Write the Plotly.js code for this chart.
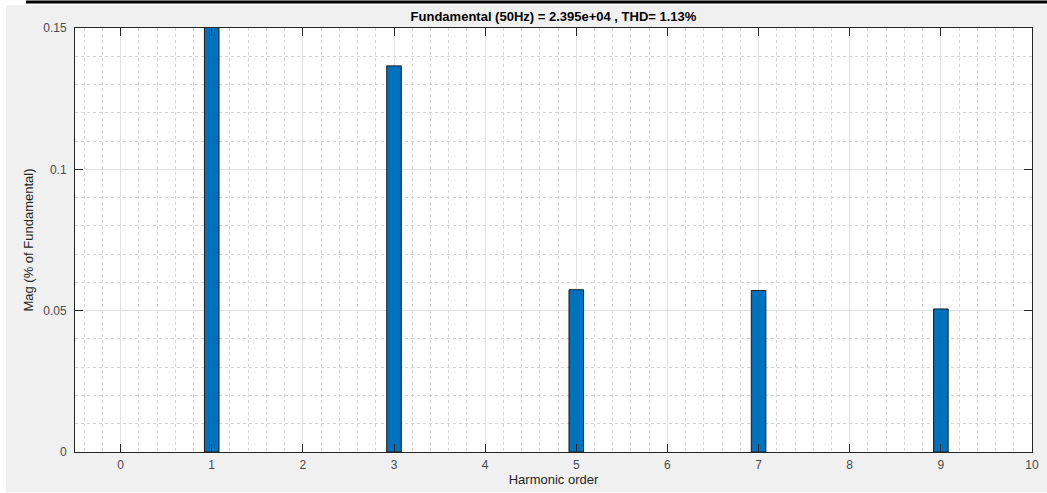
<!DOCTYPE html>
<html>
<head>
<meta charset="utf-8">
<script src="https://cdn.plot.ly/plotly-3.0.1.min.js"></script>
<style>
html,body{margin:0;padding:0;background:#fff;}
#chart{width:1047px;height:493px;}
</style>
</head>
<body>
<div id="chart"></div>
<script>
// Data
const harmonicOrder = [1, 3, 5, 7, 9];
const magnitudePct = [100, 0.1366, 0.0574, 0.0571, 0.0506];
const xTickVals = [0, 1, 2, 3, 4, 5, 6, 7, 8, 9, 10];
const xTickText = ['0', '1', '2', '3', '4', '5', '6', '7', '8', '9', '10'];
const yTickVals = [0, 0.05, 0.1, 0.15];
const yTickText = ['0', '0.05', '0.1', '0.15'];
const titleText = 'Fundamental (50Hz) = 2.395e+04 , THD= 1.13%';
const xTitle = 'Harmonic order';
const yTitle = 'Mag (% of Fundamental)';

const FONT = '"Liberation Sans", Arial, Helvetica, sans-serif';
const AX = '#262626';

const trace = {
  type: 'bar',
  x: harmonicOrder,
  y: magnitudePct,
  width: 0.16,
  marker: {color: '#0072BD', line: {color: '#1a1a1a', width: 1}},
  hoverinfo: 'x+y'
};

const L = 75, R = 15, T = 28, B = 41;
const W = 1047, H = 493;
const pw = W - L - R, ph = H - T - B;
const px = v => (v - L) / pw;          // pixel x -> paper x
const py = v => (H - B - v) / ph;      // pixel y -> paper y

const layout = {
  width: W, height: H,
  margin: {l: L, r: R, t: T, b: B, pad: 0},
  paper_bgcolor: '#f0f0f0',
  plot_bgcolor: '#ffffff',
  showlegend: false,
  bargap: 0,
  font: {family: FONT, size: 12, color: AX},
  title: {
    text: '<b>' + titleText + '</b>',
    font: {family: FONT, size: 13, color: '#000'},
    x: 0.5, xref: 'paper', xanchor: 'center',
    y: 1 - 16.5 / H, yref: 'container', yanchor: 'middle'
  },
  xaxis: {
    range: [-0.5, 10],
    tickmode: 'array', tickvals: xTickVals, ticktext: xTickText,
    ticks: 'inside', ticklen: 8, tickwidth: 1, tickcolor: AX,
    showline: true, linecolor: AX, linewidth: 1, mirror: 'ticks',
    showgrid: true, gridcolor: '#e2e2e2', gridwidth: 1,
    zeroline: false,
    tickfont: {family: FONT, size: 12, color: '#4a4a4a'},
    ticklabelstandoff: 2,
    minor: {dtick: 0.2, tick0: 0, showgrid: true, gridcolor: '#d6d6d6', griddash: 'dot', gridwidth: 1, ticks: ''},
    title: {text: xTitle, font: {family: FONT, size: 13, color: '#262626'}, standoff: 2},
    fixedrange: true
  },
  yaxis: {
    range: [0, 0.15],
    tickmode: 'array', tickvals: yTickVals, ticktext: yTickText,
    ticks: 'inside', ticklen: 8, tickwidth: 1, tickcolor: AX,
    showline: true, linecolor: AX, linewidth: 1, mirror: 'ticks',
    showgrid: true, gridcolor: '#e2e2e2', gridwidth: 1,
    zeroline: false,
    tickfont: {family: FONT, size: 12, color: '#4a4a4a'},
    ticklabelstandoff: 5,
    minor: {dtick: 0.01, tick0: 0, showgrid: true, gridcolor: '#d6d6d6', griddash: 'dot', gridwidth: 1, ticks: ''},
    title: {text: yTitle, font: {family: FONT, size: 13, color: '#262626'}, standoff: 6},
    fixedrange: true
  },
  shapes: [
    // white frame strips outside the grey figure area
    {type: 'rect', xref: 'paper', yref: 'paper', layer: 'below',
     x0: px(-2), x1: px(W + 2), y0: py(5), y1: py(-2),
     fillcolor: '#ffffff', line: {width: 0}},
    {type: 'rect', xref: 'paper', yref: 'paper', layer: 'below',
     x0: px(-2), x1: px(6), y0: py(H + 2), y1: py(-2),
     fillcolor: '#ffffff', line: {width: 0}},
    {type: 'rect', xref: 'paper', yref: 'paper', layer: 'below',
     x0: px(-2), x1: px(W + 2), y0: py(H + 2), y1: py(492),
     fillcolor: '#ffffff', line: {width: 0}},
    // black rule along the top
    {type: 'line', xref: 'paper', yref: 'paper',
     x0: px(26), x1: px(W + 2), y0: py(2), y1: py(2),
     line: {color: '#000000', width: 3}}
  ]
};

Plotly.newPlot('chart', [trace], layout, {displayModeBar: false, staticPlot: true});
</script>
</body>
</html>
